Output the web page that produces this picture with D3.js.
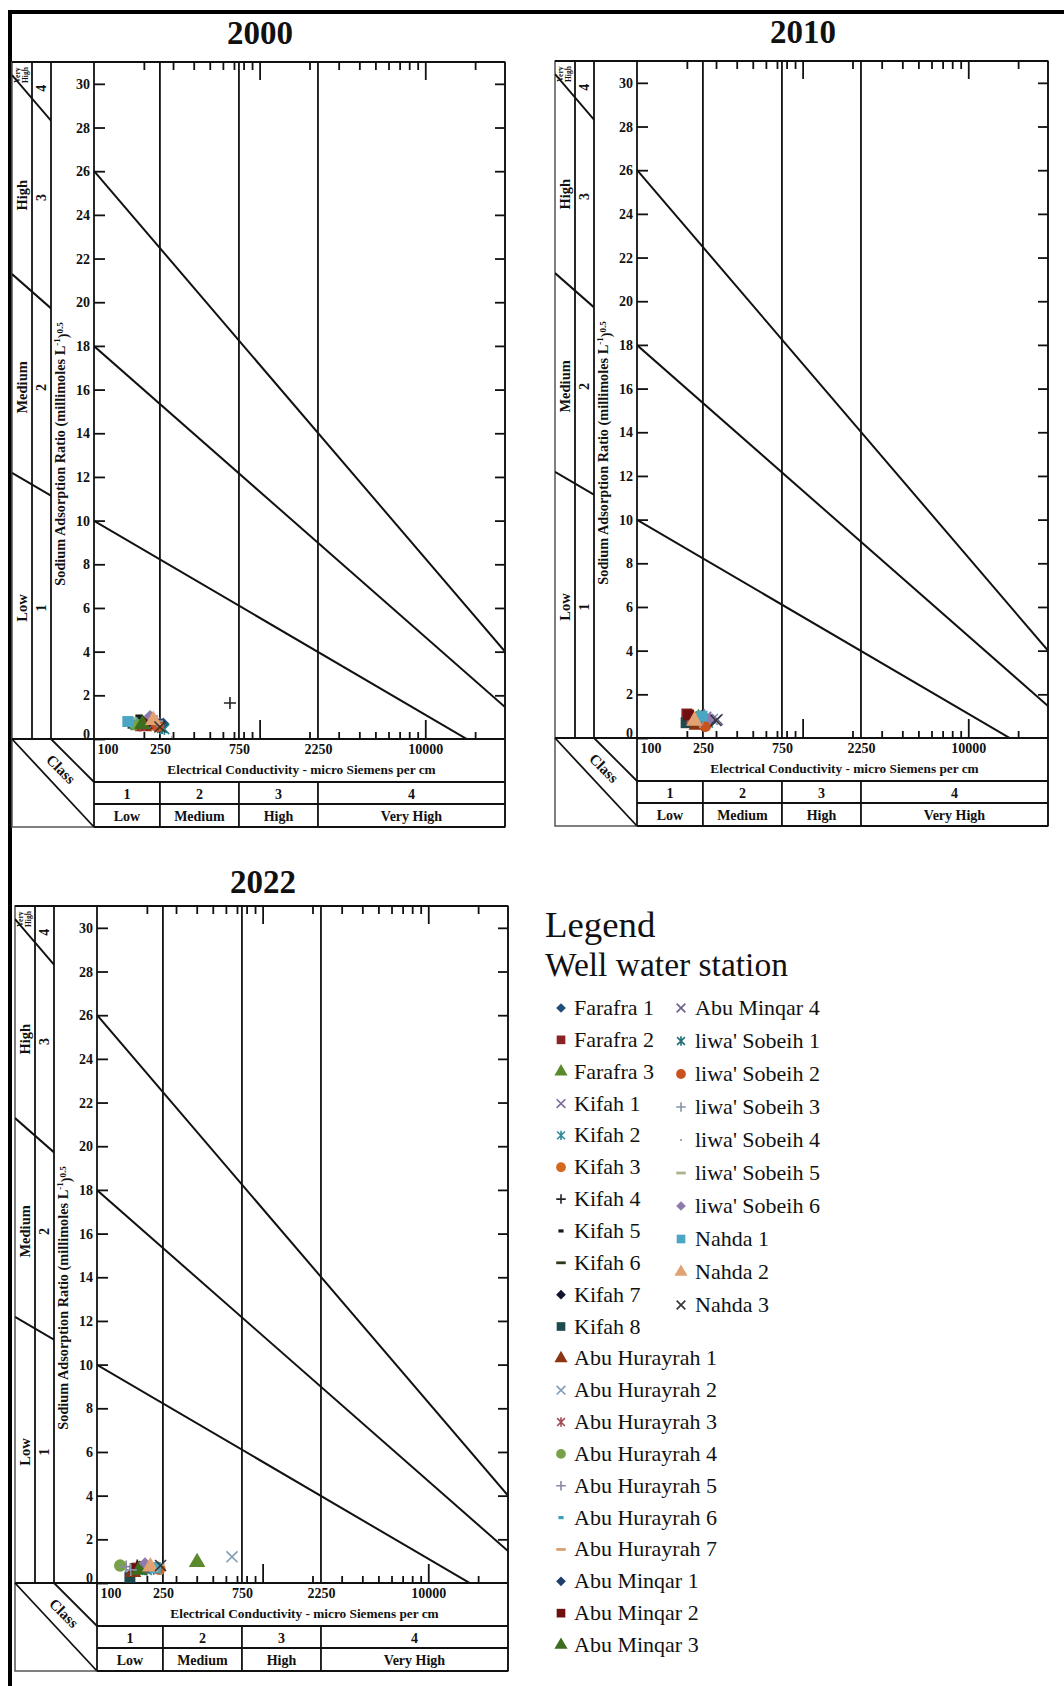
<!DOCTYPE html>
<html>
<head>
<meta charset="utf-8">
<script src="https://cdn.jsdelivr.net/npm/d3@7"></script>
<style>
  body { margin: 0; background: #fff; }
  svg { display: block; }
</style>
</head>
<body>
<svg id="chart" width="1064" height="1686"></svg>
<script>
// ---- data ----
const stationNames = [
  "Farafra 1", "Farafra 2", "Farafra 3",
  "Kifah 1", "Kifah 2", "Kifah 3", "Kifah 4", "Kifah 5", "Kifah 6", "Kifah 7", "Kifah 8",
  "Abu Hurayrah 1", "Abu Hurayrah 2", "Abu Hurayrah 3", "Abu Hurayrah 4", "Abu Hurayrah 5", "Abu Hurayrah 6", "Abu Hurayrah 7",
  "Abu Minqar 1", "Abu Minqar 2", "Abu Minqar 3", "Abu Minqar 4",
  "liwa' Sobeih 1", "liwa' Sobeih 2", "liwa' Sobeih 3", "liwa' Sobeih 4", "liwa' Sobeih 5", "liwa' Sobeih 6",
  "Nahda 1", "Nahda 2", "Nahda 3"
];
const stationShapes = [
  "diamond", "square", "triangle",
  "times", "asterisk", "circle", "plus", "shortDash", "dash", "diamond", "square",
  "triangle", "times", "asterisk", "circle", "plus", "shortDash", "dash",
  "diamond", "square", "triangle", "times",
  "asterisk", "circle", "plus", "dot", "dash", "diamond",
  "square", "triangle", "times"
];
const stationColors = [
  "#1f4e79", "#8b2323", "#5b8a2e",
  "#7a6a9c", "#2e8b98", "#d2691e", "#222222", "#1a1a1a", "#2d3a1a", "#14142a", "#1d4a4f",
  "#8a3412", "#7f9bb5", "#a24d58", "#78a24a", "#8c85a6", "#3aa0b5", "#d8a070",
  "#1e3f6e", "#6e1010", "#3c6e1e", "#6e5e8c",
  "#1f6e78", "#c9521c", "#8594a8", "#9a9a9a", "#a9b38e", "#8e7bab",
  "#4aa6c2", "#e3a272", "#333333"
];

const ec2000 = [262, 203, 185, 220, 266, 236, 662, 186, 182, 195, 172, 200, 214, 190, 176, 206, 174, 226, 256, 210, 196, 232, 258, 244, 240, 296, 166, 218, 160, 228, 250];
const sar2000 = [0.70, 0.75, 0.62, 0.80, 0.45, 0.62, 1.65, 1.05, 0.88, 0.85, 0.72, 0.58, 0.68, 0.60, 0.70, 0.82, 0.92, 0.76, 0.66, 0.70, 0.68, 0.72, 0.50, 0.60, 0.82, 0.10, 0.95, 1.05, 0.80, 0.86, 0.55];

const ec2010 = [272, 200, 235, 260, 268, 252, 245, 215, 225, 240, 198, 230, 285, 212, 232, 255, 262, 218, 278, 205, 228, 305, 265, 258, 250, 240, 242, 276, 247, 222, 300];
const sar2010 = [0.80, 1.10, 0.90, 0.95, 0.70, 0.62, 1.00, 1.05, 0.95, 0.75, 0.70, 0.60, 0.85, 0.90, 0.95, 1.05, 1.00, 0.85, 0.75, 1.05, 0.80, 0.85, 0.80, 0.55, 0.90, 0.50, 1.10, 0.90, 1.00, 0.78, 0.80];

const ec2022 = [228, 185, 402, 190, 200, 238, 175, 168, 182, 172, 158, 165, 653, 178, 138, 150, 215, 205, 195, 170, 180, 212, 220, 232, 160, 245, 235, 195, 225, 210, 242];
const sar2022 = [0.72, 0.75, 0.95, 0.70, 0.60, 0.65, 0.80, 0.85, 0.85, 0.55, 0.27, 0.50, 1.20, 0.70, 0.80, 0.75, 0.82, 0.82, 0.62, 0.65, 0.60, 0.70, 0.65, 0.70, 0.60, 0.40, 0.85, 0.90, 0.70, 0.75, 0.80];

const years = ["2000", "2010", "2022"];
const ecByYear = [ec2000, ec2010, ec2022];
const sarByYear = [sar2000, sar2010, sar2022];

const ecTickLabels = [100, 250, 750, 2250, 10000];
const ecMinorTicks = [200, 300, 400, 500, 600, 700, 800, 900, 2000, 3000, 4000, 5000, 6000, 7000, 8000, 9000, 20000];
const ecMajorTicks = [1000, 10000];
const ecClassBreaks = [250, 750, 2250];
const ecClassNumbers = ["1", "2", "3", "4"];
const ecClassNames = ["Low", "Medium", "High", "Very High"];

const sarTicks = [0, 2, 4, 6, 8, 10, 12, 14, 16, 18, 20, 22, 24, 26, 28, 30];
const sarClassNames = ["Low", "Medium", "High"];
const sarClassNumbers = ["1", "2", "3", "4"];
const sarClassNameAt = [6, 16.1, 24.9];
const sarClassNumberAt = [6, 16.1, 24.8, 29.8];
const sarVeryHighAt = 30.4;
// S1/S2, S2/S3, S3/S4 boundaries: SAR = a - b * log10(EC)
const sarBoundaryIntercepts = [18.87, 31.31, 43.75];
const sarBoundarySlopes = [4.44, 6.66, 8.87];

// ---- layout ----
const panelOrigins = [[94, 739, 44], [637, 738, 43], [97, 1583, 893]]; // y-axis x, baseline y, title baseline
const PLOT_W = 411;
const PLOT_H = 677;
const STRIP = 82;
const COL1 = 62;
const COL2 = 43;
const EC_MAX = 30300;
const FONT = "'Liberation Serif', 'Times New Roman', serif";

const svg = d3.select("#chart");

const shapeTypes = {
  circle: d3.symbolCircle,
  square: d3.symbolSquare,
  triangle: d3.symbolTriangle,
  diamond: { draw(c, s) { const r = Math.sqrt(s) * 0.56; c.moveTo(0, -r); c.lineTo(r, 0); c.lineTo(0, r); c.lineTo(-r, 0); c.closePath(); } },
  times: { draw(c, s) { const r = Math.sqrt(s) * 0.5; c.moveTo(-r, -r); c.lineTo(r, r); c.moveTo(r, -r); c.lineTo(-r, r); } },
  plus: { draw(c, s) { const r = Math.sqrt(s) * 0.55; c.moveTo(-r, 0); c.lineTo(r, 0); c.moveTo(0, -r); c.lineTo(0, r); } },
  asterisk: { draw(c, s) { const r = Math.sqrt(s) * 0.45; c.moveTo(-r, -r); c.lineTo(r, r); c.moveTo(r, -r); c.lineTo(-r, r); c.moveTo(0, -r * 1.2); c.lineTo(0, r * 1.2); } },
  dash: { draw(c, s) { const w = Math.sqrt(s) * 1.1; c.rect(-w / 2, -1.4, w, 2.8); } },
  shortDash: { draw(c, s) { const w = Math.sqrt(s) * 0.6; c.rect(-w / 2, -1.6, w, 3.2); } },
  dot: { draw(c) { c.moveTo(1.1, 0); c.arc(0, 0, 1.1, 0, 2 * Math.PI); } }
};
const strokeShapes = new Set(["times", "plus", "asterisk"]);

const drawMarker = (sel, i, size) => {
  const shape = stationShapes[i];
  const isStroke = strokeShapes.has(shape);
  sel.attr("d", d3.symbol().type(shapeTypes[shape]).size(size)())
    .attr("fill", isStroke ? "none" : stationColors[i])
    .attr("stroke", isStroke ? stationColors[i] : "none")
    .attr("stroke-width", isStroke ? 1.6 : 0);
};

const line = (g, x1, y1, x2, y2, w = 1.8, color = "#111") =>
  g.append("line").attr("x1", x1).attr("y1", y1).attr("x2", x2).attr("y2", y2)
    .attr("stroke", color).attr("stroke-width", w);

const text = (g, str, x, y, size, opts = {}) =>
  g.append("text").attr("x", x).attr("y", y)
    .attr("font-family", FONT).attr("font-size", size)
    .attr("font-weight", opts.weight || "bold")
    .attr("text-anchor", opts.anchor || "middle")
    .attr("fill", "#111")
    .text(str);

const styleAxis = (g) => {
  g.select(".domain").remove();
  g.selectAll("line").attr("stroke", "#111").attr("stroke-width", 1.8);
  g.selectAll("text").attr("font-family", FONT).attr("font-size", 14).attr("font-weight", "bold").attr("fill", "#111");
};

const drawPanel = (p) => {
  const [ax, by, titleY] = panelOrigins[p];
  const top = by - PLOT_H;
  const right = ax + PLOT_W;
  const left = ax - STRIP;
  const x = d3.scaleLog().domain([100, EC_MAX]).range([ax, right]);
  const y = d3.scaleLinear().domain([0, 31]).range([by, top]);
  const g = svg.append("g");

  // title
  text(g, years[p], ax + 166, titleY, 33);

  // panel box
  g.append("rect").attr("x", left).attr("y", top).attr("width", STRIP + PLOT_W).attr("height", PLOT_H + 88)
    .attr("fill", "none").attr("stroke", "#555").attr("stroke-width", 1.5);

  // frame lines
  line(g, left, top, right, top, 2);
  line(g, ax - COL1, top, ax - COL1, by);
  line(g, ax - COL2, top, ax - COL2, by);
  line(g, ax, top, ax, by + 88);
  line(g, right, top, right, by + 88);
  line(g, left, by, right, by, 2);
  line(g, ax, by + 43, right, by + 43);
  line(g, ax, by + 65, right, by + 65);
  line(g, ax, by + 88, right, by + 88);
  ecClassBreaks.forEach((v) => {
    line(g, x(v), top, x(v), by);
    line(g, x(v), by + 43, x(v), by + 88);
  });
  line(g, left, by, ax, by + 88);
  line(g, ax - COL2, by, ax, by + 43);

  // SAR hazard boundaries, shown in the plot and in the left label strip
  const clipId = `clip-${years[p]}`;
  const clip = g.append("clipPath").attr("id", clipId);
  clip.append("rect").attr("x", left).attr("y", top).attr("width", STRIP - COL2).attr("height", PLOT_H);
  clip.append("rect").attr("x", ax).attr("y", top).attr("width", PLOT_W).attr("height", PLOT_H);
  const ecLeft = x.invert(left);
  const bounds = g.append("g").attr("clip-path", `url(#${clipId})`);
  sarBoundaryIntercepts.forEach((a, k) => {
    const b = sarBoundarySlopes[k];
    const sarAt = (ec) => a - b * Math.log10(ec);
    line(bounds, x(ecLeft), y(sarAt(ecLeft)), x(EC_MAX), y(sarAt(EC_MAX)), 2);
  });

  // y axis ticks + labels
  const yl = g.append("g").attr("transform", `translate(${ax},0)`)
    .call(d3.axisLeft(y).tickValues(sarTicks).tickSize(-11).tickPadding(4));
  styleAxis(yl);
  yl.selectAll(".tick").filter((d) => d === 0).select("text").attr("y", -5);
  const yr = g.append("g").attr("transform", `translate(${right},0)`)
    .call(d3.axisRight(y).tickValues(sarTicks.filter((d) => d > 0)).tickSize(-10).tickFormat(""));
  styleAxis(yr);

  // x ticks top and bottom
  [[ecMinorTicks, 8, 7], [ecMajorTicks, 18, 19]].forEach(([vals, tTop, tBot]) => {
    styleAxis(g.append("g").attr("transform", `translate(0,${top})`)
      .call(d3.axisTop(x).tickValues(vals).tickSize(-tTop).tickFormat("")));
    styleAxis(g.append("g").attr("transform", `translate(0,${by})`)
      .call(d3.axisBottom(x).tickValues(vals).tickSize(-tBot).tickFormat("")));
  });
  const xl = g.append("g").attr("transform", `translate(0,${by})`)
    .call(d3.axisBottom(x).tickValues(ecTickLabels).tickSize(0).tickPadding(5).tickFormat(d3.format("d")));
  styleAxis(xl);
  xl.selectAll(".tick").filter((d) => d === 100).select("text").attr("text-anchor", "start").attr("x", 3);

  text(g, "Electrical Conductivity - micro Siemens per cm", (ax + right) / 2 + 2, by + 34.5, 13.3);

  // EC class table
  const edges = [ax, ...ecClassBreaks.map(x), right];
  ecClassNumbers.forEach((n, k) => {
    const cx = (edges[k] + edges[k + 1]) / 2;
    text(g, n, cx, by + 59.5, 14);
    text(g, ecClassNames[k], cx, by + 82, 14);
  });

  text(g, "Class", 0, 0, 15).attr("transform", `translate(${ax - 33},${by + 30}) rotate(45)`).attr("dy", "0.35em");

  // SAR class strip
  const rot = (str, cx, cy, size) =>
    text(g, str, 0, 0, size).attr("dy", "0.35em").attr("transform", `translate(${cx},${cy}) rotate(-90)`);
  sarClassNames.forEach((n, k) => rot(n, ax - 72, y(sarClassNameAt[k]), 14.5));
  sarClassNumbers.forEach((n, k) => rot(n, ax - 52.5, y(sarClassNumberAt[k]), 14));
  const vh = text(g, "", 0, 0, 7.5).attr("transform", `translate(${ax - 72},${y(sarVeryHighAt)}) rotate(-90)`);
  vh.append("tspan").attr("x", 0).attr("dy", "-0.25em").text("Very");
  vh.append("tspan").attr("x", 0).attr("dy", "1.05em").text("High");

  const yt = text(g, "", 0, 0, 14.3).attr("dy", "0.35em").attr("transform", `translate(${ax - 34},${by - 285}) rotate(-90)`);
  yt.append("tspan").text("Sodium Adsorption Ratio (millimoles L");
  yt.append("tspan").attr("font-size", 9).attr("dy", "-0.6em").text("-1");
  yt.append("tspan").attr("dy", "0.6em").text(")");
  yt.append("tspan").attr("font-size", 9).attr("dy", "-0.6em").text("0.5");

  // station points
  g.append("g").selectAll("path")
    .data(d3.range(stationNames.length))
    .join("path")
    .attr("transform", (i) => `translate(${x(ecByYear[p][i])},${y(sarByYear[p][i])})`)
    .each(function (i) { drawMarker(d3.select(this), i, 120); });
};

// outer frame
line(svg, 8, 12, 1064, 12, 4, "#000");
line(svg, 10, 10, 10, 1686, 4, "#000");

years.forEach((_, p) => drawPanel(p));

// legend
const lg = svg.append("g");
text(lg, "Legend", 545, 937, 36.8, { weight: "normal", anchor: "start" });
text(lg, "Well water station", 545, 976, 33.5, { weight: "normal", anchor: "start" });
stationNames.forEach((name, i) => {
  const col = i < 21 ? 0 : 1;
  const row = col ? i - 21 : i;
  const cy = col ? 1008 + row * 33 : 1008 + row * 31.85;
  const mx = col ? 681 : 561;
  const tx = col ? 695 : 574;
  lg.append("path").attr("transform", `translate(${mx},${cy})`).call((s) => drawMarker(s, i, 75));
  text(lg, name, tx, cy + 7, 22, { weight: "normal", anchor: "start" });
});
</script>
</body>
</html>
